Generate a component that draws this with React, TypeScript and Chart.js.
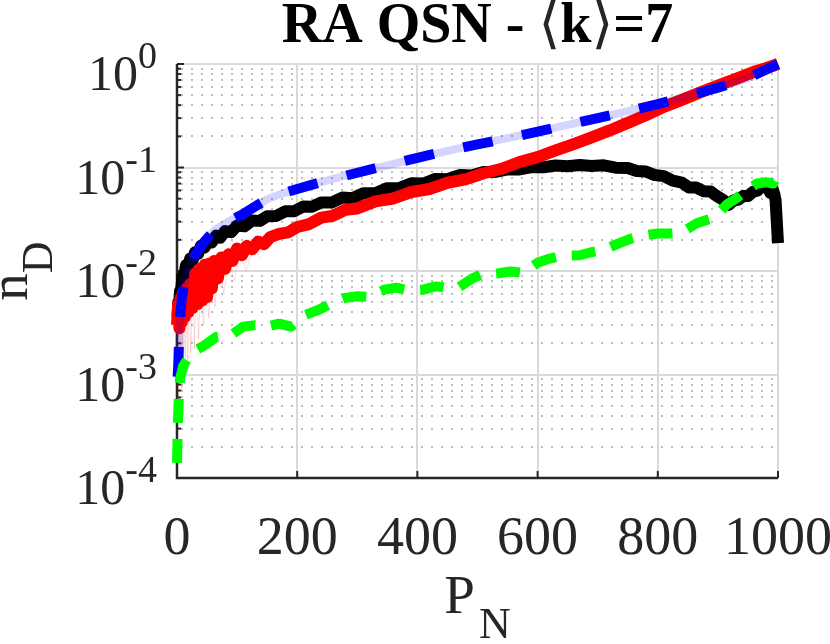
import { useEffect, useRef } from 'react';
import { Chart, registerables, type ChartConfiguration, type Plugin } from 'chart.js';

Chart.register(...registerables);

const X_TICKS = [0, 200, 400, 600, 800, 1000];
const Y_TICKS = [1e-4, 1e-3, 1e-2, 1e-1, 1];
const Y_TICK_EXPONENTS = ['-4', '-3', '-2', '-1', '0'];
const Y_MINOR_STEPS = [2, 3, 4, 5, 6, 7, 8, 9];

// blue dashed curve (and the faint lavender line under it)
const BLUE_PN = [1, 2, 3, 5, 8, 12, 20, 30, 45, 63, 85, 108, 130, 152, 175, 200, 250, 300, 350, 400, 450, 500, 550, 600, 650, 700, 750, 800, 850, 900, 950, 1000];
const BLUE_ND = [0.00095, 0.0012, 0.0018, 0.0035, 0.0055, 0.0078, 0.011, 0.0143, 0.019, 0.025, 0.03, 0.035, 0.042, 0.05, 0.056, 0.062, 0.075, 0.089, 0.105, 0.124, 0.145, 0.167, 0.192, 0.222, 0.258, 0.3, 0.35, 0.41, 0.49, 0.59, 0.73, 1.0];

// black noisy curve
const BLACK_PN = [1, 2, 3, 5, 7, 9, 12, 15, 18, 22, 26, 30, 35, 40, 46, 52, 58, 65, 72, 80, 90, 100, 112, 125, 138, 150, 165, 180, 195, 210, 225, 240, 258, 275, 292, 310, 330, 350, 370, 390, 410, 430, 450, 470, 490, 510, 530, 550, 570, 590, 610, 630, 650, 670, 690, 710, 730, 750, 765, 780, 795, 810, 825, 840, 852, 864, 876, 888, 898, 908, 918, 926, 934, 942, 950, 958, 966, 972, 978, 983, 987, 991, 994, 996, 998, 1000];
const BLACK_ND = [0.0036, 0.005, 0.0042, 0.0064, 0.0066, 0.0088, 0.0089, 0.0114, 0.0108, 0.0132, 0.0127, 0.0152, 0.0146, 0.0176, 0.0169, 0.0196, 0.0189, 0.0219, 0.021, 0.0243, 0.0237, 0.0275, 0.027, 0.0308, 0.0305, 0.0338, 0.034, 0.0377, 0.0378, 0.042, 0.0418, 0.046, 0.046, 0.0512, 0.0505, 0.0565, 0.0565, 0.0632, 0.0632, 0.0705, 0.07, 0.0775, 0.077, 0.0845, 0.0838, 0.0905, 0.0905, 0.096, 0.0958, 0.101, 0.1005, 0.1045, 0.1028, 0.1055, 0.1035, 0.105, 0.0995, 0.099, 0.0925, 0.0915, 0.0845, 0.0825, 0.0745, 0.0715, 0.064, 0.064, 0.059, 0.0585, 0.053, 0.049, 0.0435, 0.048, 0.049, 0.053, 0.053, 0.058, 0.06, 0.065, 0.065, 0.064, 0.057, 0.062, 0.055, 0.048, 0.03, 0.0186];

// red noisy curve
const RED_PN = [0, 2, 4, 6, 8, 10, 13, 16, 19, 22, 26, 30, 34, 38, 42, 46, 50, 54, 58, 62, 68, 74, 80, 86, 92, 100, 108, 116, 125, 135, 145, 155, 170, 185, 200, 220, 240, 260, 280, 300, 330, 360, 390, 420, 450, 480, 510, 540, 570, 600, 630, 660, 690, 720, 750, 780, 810, 840, 870, 900, 930, 960, 980, 1000];
const RED_ND = [0.003, 0.0048, 0.0028, 0.0055, 0.0032, 0.0062, 0.0036, 0.0068, 0.004, 0.0075, 0.0044, 0.0095, 0.0048, 0.0105, 0.0052, 0.0115, 0.0056, 0.0118, 0.0068, 0.0125, 0.0085, 0.0135, 0.0105, 0.0145, 0.0125, 0.0165, 0.0142, 0.0175, 0.0162, 0.0192, 0.0182, 0.0212, 0.0228, 0.0236, 0.0266, 0.0284, 0.0328, 0.0342, 0.039, 0.0402, 0.047, 0.0502, 0.058, 0.062, 0.0712, 0.0768, 0.088, 0.097, 0.113, 0.126, 0.146, 0.168, 0.195, 0.228, 0.27, 0.32, 0.385, 0.45, 0.53, 0.62, 0.72, 0.84, 0.91, 1.0];

// faint pink spread under the red curve at small P_N
const PINK_PN = [1, 2, 3, 5, 6, 8, 9, 11, 12, 14, 16, 18, 20, 23, 26, 29, 32, 36, 40, 44, 48, 53, 58, 63, 70, 78, 86, 95, 105, 115, 128, 140];
const PINK_ND = [0.003, 0.0006, 0.0045, 0.0008, 0.005, 0.0007, 0.0055, 0.001, 0.006, 0.0012, 0.0065, 0.0011, 0.007, 0.0016, 0.008, 0.0018, 0.009, 0.0022, 0.01, 0.003, 0.011, 0.0035, 0.0115, 0.0045, 0.0125, 0.006, 0.014, 0.008, 0.0155, 0.01, 0.017, 0.013];

// green dashed curve
const GREEN_PN = [0, 1, 2, 3, 5, 10, 20, 30, 45, 65, 90, 110, 130, 150, 170, 190, 210, 235, 255, 280, 300, 320, 345, 365, 385, 410, 430, 450, 470, 490, 505, 535, 555, 575, 600, 620, 640, 670, 690, 710, 735, 755, 775, 800, 820, 840, 865, 880, 895, 915, 930, 947, 965, 980, 992, 1000];
const GREEN_ND = [1.4e-4, 2.5e-4, 4e-4, 6e-4, 9e-4, 1.2e-3, 1.5e-3, 1.7e-3, 1.9e-3, 2.3e-3, 2.4e-3, 2.9e-3, 3.0e-3, 2.9e-3, 3.1e-3, 2.9e-3, 3.7e-3, 4.2e-3, 4.8e-3, 5.5e-3, 5.7e-3, 5.6e-3, 6.6e-3, 6.9e-3, 6.5e-3, 6.6e-3, 7.1e-3, 6.9e-3, 7.0e-3, 8.4e-3, 9.2e-3, 9.5e-3, 9.9e-3, 9.6e-3, 1.2e-2, 1.32e-2, 1.4e-2, 1.42e-2, 1.52e-2, 1.6e-2, 1.85e-2, 2.05e-2, 2.2e-2, 2.3e-2, 2.3e-2, 2.35e-2, 2.9e-2, 3.1e-2, 3.3e-2, 4.4e-2, 5.0e-2, 6.0e-2, 7.0e-2, 7.2e-2, 7.0e-2, 9.2e-2];

const TEXT = '#262626';
const SERIF = '"Liberation Serif", "Times New Roman", "DejaVu Serif", serif';

const pairs = (xs: number[], ys: number[]) => xs.map((x, i) => ({ x, y: ys[i] }));

// MATLAB-ish axes: dotted minor grid, inward ticks, TeX-like labels.
const matlabAxes: Plugin<'line'> = {
  id: 'matlabAxes',
  beforeDatasetsDraw(chart) {
    const { ctx, chartArea: a } = chart;
    const xs = chart.scales.x;
    const ys = chart.scales.y;
    ctx.save();
    ctx.strokeStyle = '#bdbdbd';
    ctx.lineWidth = 2;
    ctx.setLineDash([2, 8]);
    Y_TICKS.slice(0, -1).forEach((d) =>
      Y_MINOR_STEPS.forEach((m) => {
        const py = Math.round(ys.getPixelForValue(d * m));
        ctx.beginPath();
        ctx.moveTo(a.left + 4, py);
        ctx.lineTo(a.right, py);
        ctx.stroke();
      }),
    );
    ctx.setLineDash([]);

    ctx.strokeStyle = TEXT;
    ctx.lineWidth = 2;
    X_TICKS.forEach((v) => {
      const px = xs.getPixelForValue(v);
      ctx.beginPath();
      ctx.moveTo(px, a.bottom);
      ctx.lineTo(px, a.bottom - 7);
      ctx.stroke();
    });
    Y_TICKS.forEach((v, i) => {
      const py = ys.getPixelForValue(v);
      ctx.beginPath();
      ctx.moveTo(a.left, py);
      ctx.lineTo(a.left + 7, py);
      ctx.stroke();
      if (i === Y_TICKS.length - 1) return;
      Y_MINOR_STEPS.forEach((m) => {
        const pm = ys.getPixelForValue(v * m);
        ctx.beginPath();
        ctx.moveTo(a.left, pm);
        ctx.lineTo(a.left + 4, pm);
        ctx.stroke();
      });
    });

    ctx.lineWidth = 2.5;
    ctx.beginPath();
    ctx.moveTo(a.left, a.top);
    ctx.lineTo(a.left, a.bottom);
    ctx.lineTo(a.right, a.bottom);
    ctx.stroke();
    ctx.restore();
  },
  afterDraw(chart) {
    const { ctx, chartArea: a } = chart;
    const xs = chart.scales.x;
    const ys = chart.scales.y;
    ctx.save();
    ctx.fillStyle = TEXT;
    ctx.textBaseline = 'alphabetic';

    // x tick labels
    ctx.font = `54px ${SERIF}`;
    ctx.textAlign = 'center';
    X_TICKS.forEach((v) => ctx.fillText(String(v), xs.getPixelForValue(v), 554));

    // y tick labels 10^e
    ctx.textAlign = 'left';
    Y_TICKS.forEach((v, i) => {
      const py = ys.getPixelForValue(v);
      ctx.font = `38px ${SERIF}`;
      const we = ctx.measureText(Y_TICK_EXPONENTS[i]).width;
      ctx.font = `50px ${SERIF}`;
      const wb = ctx.measureText('10').width;
      const right = 157;
      ctx.fillText('10', right - we - wb, py + 26);
      ctx.font = `38px ${SERIF}`;
      ctx.fillText(Y_TICK_EXPONENTS[i], right - we, py + 4);
    });

    // x label P_N
    ctx.font = `55px ${SERIF}`;
    const wP = ctx.measureText('P').width;
    ctx.font = `44px ${SERIF}`;
    const wN = ctx.measureText('N').width;
    const cx = (a.left + a.right) / 2;
    const x0 = cx - (wP + wN + 4) / 2;
    ctx.font = `55px ${SERIF}`;
    ctx.fillText('P', x0, 613);
    ctx.font = `44px ${SERIF}`;
    ctx.fillText('N', x0 + wP + 4, 638);

    // y label n_D (rotated)
    ctx.save();
    ctx.translate(27, (a.top + a.bottom) / 2);
    ctx.rotate(-Math.PI / 2);
    ctx.font = `55px ${SERIF}`;
    const wn = ctx.measureText('n').width;
    ctx.font = `44px ${SERIF}`;
    const wD = ctx.measureText('D').width;
    const y0 = -(wn + wD) / 2;
    ctx.font = `55px ${SERIF}`;
    ctx.fillText('n', y0, 0);
    ctx.font = `44px ${SERIF}`;
    ctx.fillText('D', y0 + wn, 25);
    ctx.restore();

    // title
    const parts: [string, boolean][] = [
      ['RA QSN - ', true],
      ['\u27E8', false],
      ['k', true],
      ['\u27E9', false],
      ['=7', true],
    ];
    const fontOf = (bold: boolean) => `${bold ? 'bold ' : ''}56px ${SERIF}`;
    const widths = parts.map(([t, b]) => {
      ctx.font = fontOf(b);
      return ctx.measureText(t).width;
    });
    let tx = cx - widths.reduce((s, w) => s + w, 0) / 2;
    parts.forEach(([t, b], i) => {
      ctx.font = fontOf(b);
      ctx.fillStyle = b ? '#000000' : TEXT;
      ctx.fillText(t, tx, 42);
      tx += widths[i];
    });
    ctx.restore();
  },
};

export default function App() {
  const canvasRef = useRef<HTMLCanvasElement | null>(null);

  useEffect(() => {
    document.body.style.margin = '0';
    const canvas = canvasRef.current;
    if (!canvas) return;

    const common = { pointRadius: 0, tension: 0, clip: false as const, borderJoinStyle: 'round' as const };

    const config: ChartConfiguration<'line'> = {
      type: 'line',
      data: {
        datasets: [
          {
            label: 'green',
            data: pairs(GREEN_PN, GREEN_ND),
            borderColor: '#00ff00',
            borderWidth: 10,
            borderDash: [24, 16],
            borderCapStyle: 'butt',
            ...common,
          },
          {
            label: 'blue',
            data: pairs(BLUE_PN, BLUE_ND),
            borderColor: '#0000ff',
            borderWidth: 10,
            borderDash: [30, 30],
            borderCapStyle: 'butt',
            ...common,
          },
          {
            label: 'lavender',
            data: pairs(BLUE_PN, BLUE_ND),
            borderColor: 'rgba(0, 0, 255, 0.17)',
            borderWidth: 8,
            ...common,
          },
          {
            label: 'red',
            data: pairs(RED_PN, RED_ND),
            borderColor: '#ff0000',
            borderWidth: 12,
            ...common,
          },
          {
            label: 'black',
            data: pairs(BLACK_PN, BLACK_ND),
            borderColor: '#000000',
            borderWidth: 12,
            ...common,
          },
          {
            label: 'pink',
            data: pairs(PINK_PN, PINK_ND),
            borderColor: 'rgba(255, 0, 0, 0.15)',
            borderWidth: 1,
            ...common,
          },
        ],
      },
      options: {
        responsive: false,
        animation: false,
        devicePixelRatio: 1,
        layout: { padding: { left: 177, right: 52, top: 64, bottom: 166 } },
        plugins: { legend: { display: false }, tooltip: { enabled: false }, title: { display: false } },
        scales: {
          x: {
            type: 'linear',
            min: 0,
            max: 1000,
            ticks: { display: false, stepSize: 200 },
            grid: { color: '#dadada', lineWidth: 2, drawTicks: false },
            border: { display: false },
          },
          y: {
            type: 'logarithmic',
            min: 1e-4,
            max: 1,
            afterBuildTicks: (scale) => {
              scale.ticks = Y_TICKS.map((value) => ({ value }));
            },
            ticks: { display: false },
            grid: { color: '#dadada', lineWidth: 2, drawTicks: false },
            border: { display: false },
          },
        },
      },
      plugins: [matlabAxes],
    };

    const chart = new Chart(canvas, config);
    return () => chart.destroy();
  }, []);

  return (
    <div style={{ width: 830, height: 644, background: '#ffffff' }}>
      <canvas ref={canvasRef} width={830} height={644} />
    </div>
  );
}
